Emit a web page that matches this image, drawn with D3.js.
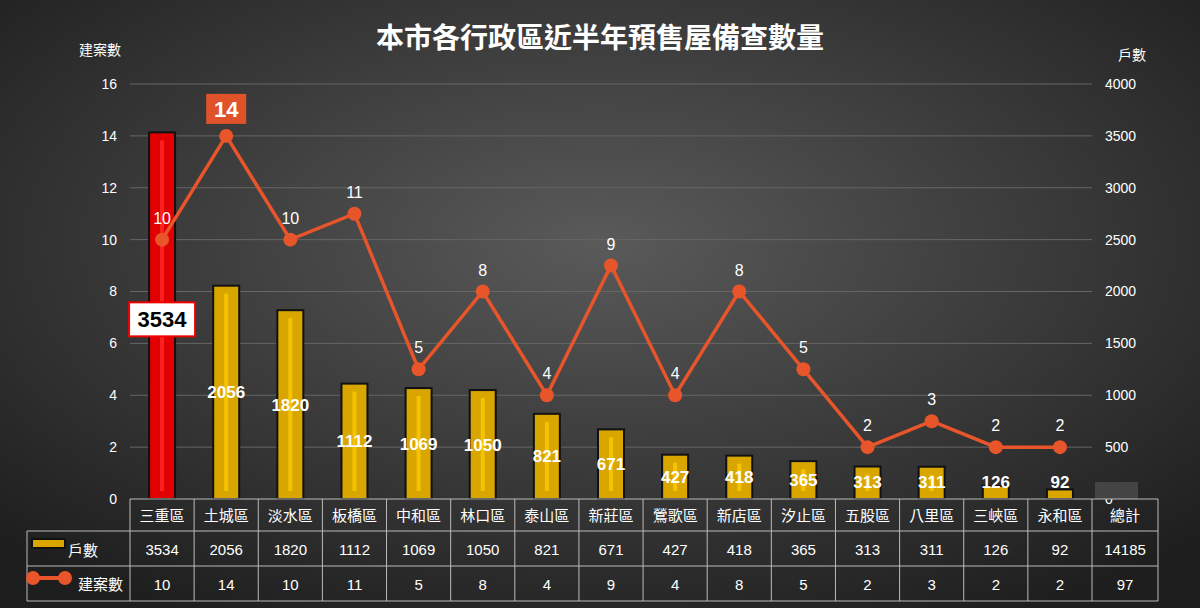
<!DOCTYPE html>
<html><head><meta charset="utf-8">
<script src="https://cdn.jsdelivr.net/npm/d3@7"></script>
<style>body{margin:0;background:#2a2a2a}text{font-family:"Liberation Sans","Noto Sans CJK TC",sans-serif}</style>
</head><body><svg id="c" width="1200" height="608"></svg>
<script>
var districts = ["三重區","土城區","淡水區","板橋區","中和區","林口區","泰山區","新莊區","鶯歌區","新店區","汐止區","五股區","八里區","三峽區","永和區"];
var households = [3534,2056,1820,1112,1069,1050,821,671,427,418,365,313,311,126,92];
var projects = [10,14,10,11,5,8,4,9,4,8,5,2,3,2,2];
var leftTicks = [0,2,4,6,8,10,12,14,16];
var rightTicks = [0,500,1000,1500,2000,2500,3000,3500,4000];

var svg = d3.select("#c");
var defs = svg.append("defs");
var g = defs.append("radialGradient").attr("id","bg").attr("cx","50%").attr("cy","40%").attr("r","70%");
g.append("stop").attr("offset","0%").attr("stop-color","#5a5a5a");
g.append("stop").attr("offset","100%").attr("stop-color","#1e1e1e");
svg.append("rect").attr("width",1200).attr("height",608).attr("fill","url(#bg)");

var x = d3.scaleBand().domain(districts).range([130,1092]);
var yL = d3.scaleLinear().domain([0,16]).range([499,84]);
var yR = d3.scaleLinear().domain([0,4000]).range([499,84]);
var cx = (d,i)=>x(districts[i])+x.bandwidth()/2;

// grid
svg.selectAll(".grid").data(leftTicks.slice(1)).enter().append("line")
  .attr("x1",130).attr("x2",1092).attr("y1",d=>yL(d)).attr("y2",d=>yL(d))
  .attr("stroke","#666").attr("stroke-width",1);

var axL = svg.append("g").attr("transform","translate(120,0)").call(d3.axisLeft(yL).tickValues(leftTicks).tickSize(0));
axL.select(".domain").remove();
axL.selectAll("text").attr("fill","#fff").attr("font-size",14).attr("font-family","Liberation Sans");
var axR = svg.append("g").attr("transform","translate(1102,0)").call(d3.axisRight(yR).tickValues(rightTicks).tickSize(0).tickFormat(d3.format("d")));
axR.select(".domain").remove();
axR.selectAll("text").attr("fill","#fff").attr("font-size",14).attr("font-family","Liberation Sans");

svg.append("text").attr("x",600).attr("y",48).attr("text-anchor","middle").attr("fill","#fff")
  .attr("font-size",28).attr("font-weight","bold").attr("font-family","Noto Sans CJK TC").text("本市各行政區近半年預售屋備查數量");
svg.append("text").attr("x",100).attr("y",55).attr("text-anchor","middle").attr("fill","#fff").attr("font-size",14).text("建案數");
svg.append("text").attr("x",1132).attr("y",60).attr("text-anchor","middle").attr("fill","#fff").attr("font-size",14).text("戶數");

// bars
var bw = 26;
svg.selectAll(".bar").data(households).enter().append("rect").attr("x",(d,i)=>cx(d,i)-bw/2).attr("y",d=>yR(d))
  .attr("width",bw).attr("height",d=>499-yR(d))
  .attr("fill",(d,i)=>i==0?"#e00000":"#d9a600").attr("stroke","#111").attr("stroke-width",2);
svg.selectAll(".hl").data(households).enter().append("rect").attr("x",(d,i)=>cx(d,i)-2).attr("y",d=>Math.min(yR(d)+8,499))
  .attr("width",4).attr("height",d=>Math.max(499-yR(d)-16,0))
  .attr("fill",(d,i)=>i==0?"#ff2020":"#f5c400");
svg.selectAll(".bl").data(households).enter().append("text").attr("x",cx)
  .attr("y",d=>Math.min((yR(d)+499)/2,482)+6).attr("text-anchor","middle").attr("fill","#fff")
  .attr("font-size",17).attr("font-weight","bold").text((d,i)=>i==0?"":d);

// first bar label box
var cx0 = cx(households[0],0);
svg.append("rect").attr("x",cx0-33).attr("y",yR(households[0])+170).attr("width",66).attr("height",34)
  .attr("fill","#fff").attr("stroke","#e00").attr("stroke-width",2);
svg.append("text").attr("x",cx0).attr("y",yR(households[0])+195).attr("text-anchor","middle")
  .attr("font-size",22).attr("font-weight","bold").attr("fill","#000").text(households[0]);

// line
svg.append("path").datum(projects).attr("fill","none").attr("stroke","#e8552a").attr("stroke-width",3.5)
  .attr("d",d3.line().x(cx).y(d=>yL(d)));
svg.selectAll(".pt").data(projects).enter().append("circle").attr("cx",cx).attr("cy",d=>yL(d)).attr("r",7).attr("fill","#e8552a");
svg.selectAll(".pl").data(projects).enter().append("text").attr("x",cx).attr("y",d=>yL(d)-16)
  .attr("text-anchor","middle").attr("fill","#fff").attr("font-size",16).text((d,i)=>i==1?"":d);
var cx1 = cx(projects[1],1);
svg.append("rect").attr("x",cx1-20).attr("y",yL(projects[1])-42).attr("width",40).attr("height",30).attr("fill","#e0522a");
svg.append("text").attr("x",cx1).attr("y",yL(projects[1])-19).attr("text-anchor","middle").attr("fill","#fff")
  .attr("font-size",22).attr("font-weight","bold").text(projects[1]);

// table
var tc = "#bbb";
var step = x.bandwidth();
svg.append("rect").attr("x",1095).attr("y",482).attr("width",43).attr("height",17).attr("fill","#444");
svg.append("line").attr("x1",130).attr("x2",1158).attr("y1",499).attr("y2",499).attr("stroke",tc);
[531,566,601].forEach(y=>svg.append("line").attr("x1",27).attr("x2",1158).attr("y1",y).attr("y2",y).attr("stroke",tc));
svg.append("line").attr("x1",27).attr("x2",27).attr("y1",531).attr("y2",601).attr("stroke",tc);
for (var i=0;i<=districts.length;i++)
  svg.append("line").attr("x1",130+i*step).attr("x2",130+i*step).attr("y1",499).attr("y2",601).attr("stroke",tc);
svg.append("line").attr("x1",1158).attr("x2",1158).attr("y1",499).attr("y2",601).attr("stroke",tc);
var cols = districts.map((d,i)=>130+i*step+step/2).concat([1125]);
var totH = d3.sum(households), totP = d3.sum(projects);
var colText = function(arr,y,size,font){ arr.forEach((t,i)=>svg.append("text").attr("x",cols[i]).attr("y",y).attr("text-anchor","middle")
  .attr("fill","#fff").attr("font-size",size).attr("font-family",font).text(t)); };
colText(districts.concat(["總計"]),521,15,"Noto Sans CJK TC");
colText(households.concat([totH]),555,15,"Liberation Sans");
colText(projects.concat([totP]),590,15,"Liberation Sans");
// legend
svg.append("rect").attr("x",32).attr("y",539).attr("width",33).attr("height",9).attr("fill","#d9a600").attr("stroke","#111").attr("stroke-width",2);
svg.append("text").attr("x",68).attr("y",556).attr("fill","#fff").attr("font-size",15).attr("font-family","Noto Sans CJK TC").text("戶數");
svg.append("line").attr("x1",33).attr("x2",65).attr("y1",578).attr("y2",578).attr("stroke","#e8552a").attr("stroke-width",4);
svg.append("circle").attr("cx",33).attr("cy",578).attr("r",7).attr("fill","#e8552a");
svg.append("circle").attr("cx",65).attr("cy",578).attr("r",7).attr("fill","#e8552a");
svg.append("text").attr("x",78).attr("y",590).attr("fill","#fff").attr("font-size",15).attr("font-family","Noto Sans CJK TC").text("建案數");
</script></body></html>
